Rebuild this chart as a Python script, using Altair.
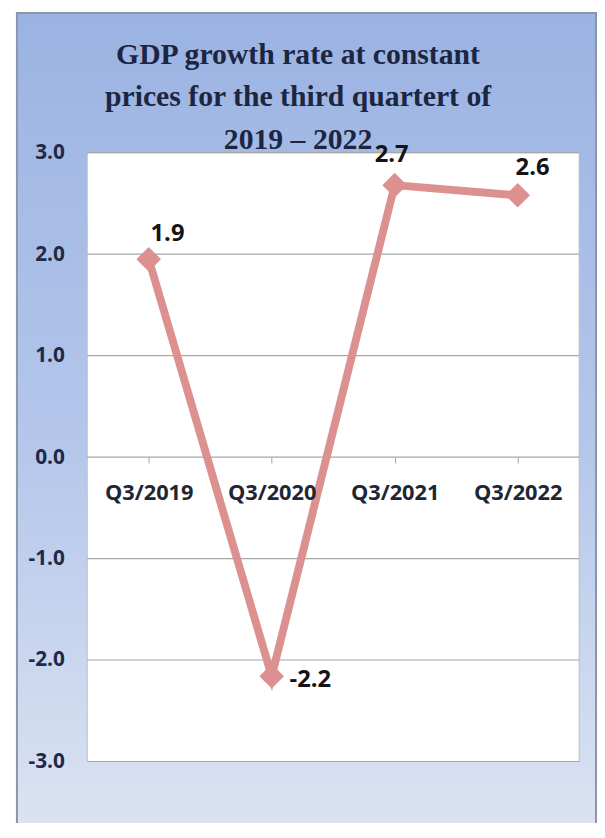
import altair as alt
import pandas as pd

quarters = ["Q3/2019", "Q3/2020", "Q3/2021", "Q3/2022"]
growth = [1.95, -2.16, 2.68, 2.58]
value_labels = ["1.9", "-2.2", "2.7", "2.6"]
y_ticks = [-3, -2, -1, 0, 1, 2, 3]
title_lines = ["GDP growth rate at constant", "prices for the third quartert of", "2019 – 2022"]

W, H = 497, 615

df = pd.DataFrame({"quarter": quarters, "growth": growth, "label": value_labels})
grid_df = pd.DataFrame({"growth": y_ticks})
one = pd.DataFrame({"k": [0]})

x_enc = alt.X("quarter:N", sort=quarters,
              scale=alt.Scale(type="point", padding=0.5),
              axis=alt.Axis(title=None, orient="bottom", offset=-307.5, domain=False,
                            ticks=True, tickSize=6, tickColor="#a6a6a6", tickWidth=1,
                            labelPadding=20, labelFont="Open Sans", labelFontSize=22,
                            labelFontWeight="bold", labelColor="#1f2633", labelAngle=0,
                            grid=False, zindex=1))
y_scale = alt.Scale(domain=[-3, 3], nice=False, zero=False)
y_axis = alt.Axis(title=None, values=y_ticks,
                  labelExpr="replace(format(datum.value, '.1f'), '\u2212', '-')",
                  domain=False, ticks=False, tickSize=0, grid=False, labelPadding=23,
                  labelFont="Open Sans", labelFontSize=21, labelFontWeight="bold",
                  labelColor="#1f2a48", zindex=1)
y_enc = alt.Y("growth:Q", scale=y_scale, axis=y_axis)

frame = alt.Chart(one).mark_rect(
    fill=alt.Gradient(gradient="linear",
                      stops=[alt.GradientStop(color="#9bb3e3", offset=0),
                             alt.GradientStop(color="#b4c6ea", offset=0.5),
                             alt.GradientStop(color="#dfe6f3", offset=1)],
                      x1=0, y1=0, x2=0, y2=1),
    stroke="#8a96a8", strokeWidth=2
).encode(x=alt.value(-71), x2=alt.value(514), y=alt.value(-141), y2=alt.value(720))

plot_bg = alt.Chart(one).mark_rect(fill="white", stroke="#b8bcc4", strokeWidth=1).encode(
    x=alt.value(0), x2=alt.value(W), y=alt.value(0), y2=alt.value(H))

title = alt.Chart(one).mark_text(
    font="Liberation Serif", fontSize=30, fontWeight="bold", color="#1c2541",
    lineHeight=43, align="center", baseline="middle"
).encode(x=alt.value(213), y=alt.value(-99), text=alt.value(title_lines))

grid = alt.Chart(grid_df).mark_rule(color="#a6a6a6", strokeWidth=1.2).encode(
    x=alt.value(0), x2=alt.value(W), y=y_enc)

line = alt.Chart(df).mark_line(color="#dc9090", strokeWidth=8).encode(x=x_enc, y=y_enc)
points = alt.Chart(df).mark_point(shape="diamond", filled=True, color="#dc9090",
                                  size=620, opacity=1).encode(x=x_enc, y=y_enc)

offsets = {
    "Q3/2019": dict(dx=19, dy=-25, align="center"),
    "Q3/2020": dict(dx=18, dy=4, align="left"),
    "Q3/2021": dict(dx=-3, dy=-30, align="center"),
    "Q3/2022": dict(dx=15, dy=-28, align="center"),
}
label_layers = []
for q in quarters:
    o = offsets[q]
    label_layers.append(
        alt.Chart(df).transform_filter(alt.datum.quarter == q).mark_text(
            font="Open Sans", fontSize=24, fontWeight="bold", color="#141414",
            baseline="middle", **o
        ).encode(x=x_enc, y=y_enc, text="label:N")
    )

chart = alt.layer(frame, plot_bg, title, grid, line, points, *label_layers).properties(
    width=W, height=H,
    autosize=alt.AutoSizeParams(type="none"),
    padding={"left": 80, "top": 142, "right": 18, "bottom": 58},
).configure_view(stroke=None).configure(background="white")

chart.save("out.html", embed_options={"renderer": "svg", "actions": False})
